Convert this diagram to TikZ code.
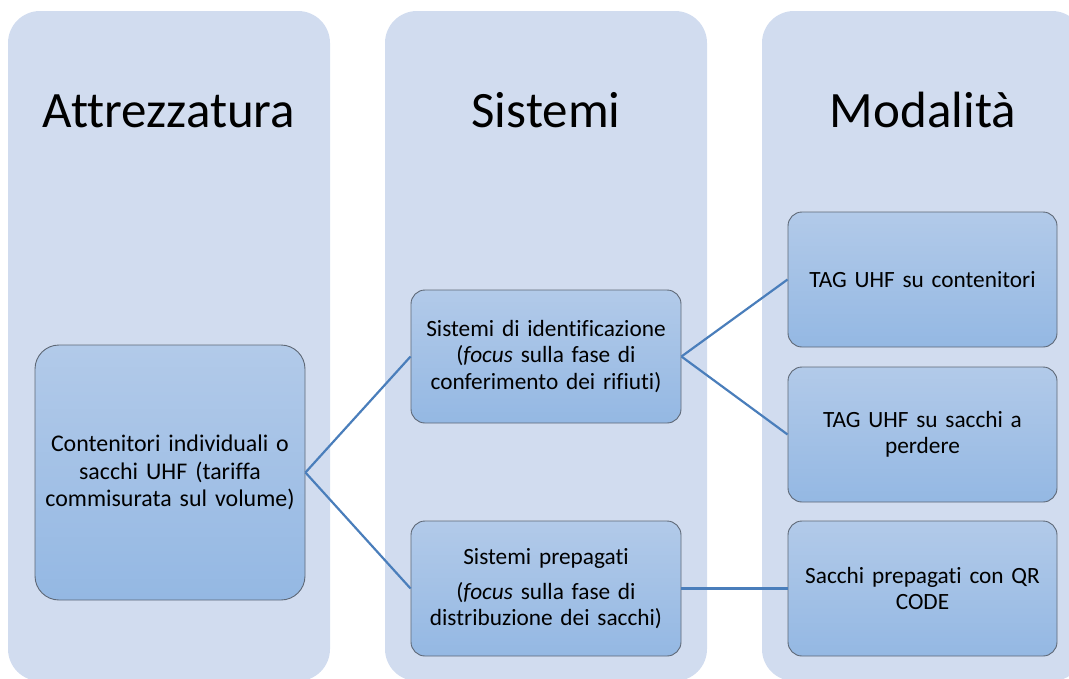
\documentclass[tikz,border=0pt]{standalone}
\usepackage{fontspec}
\setmainfont{Carlito}[Ligatures=NoCommon]
\definecolor{colbg}{RGB}{209,220,239}
\definecolor{boxtop}{RGB}{178,202,233}
\definecolor{boxbot}{RGB}{148,184,227}
\definecolor{boxline}{RGB}{94,104,118}
\definecolor{conn}{RGB}{74,126,187}
\tikzset{
  column/.style={fill=colbg, draw=none, rounded corners=32pt},
  header/.style={font=\fontsize{51}{60}\selectfont, anchor=base, inner sep=0pt},
  item/.style={draw=boxline, line width=0.9pt, top color=boxtop, bottom color=boxbot,
    rectangle, rounded corners=14pt, minimum width=270pt, minimum height=134pt,
    text width=262pt, align=center, inner sep=0pt,
    font=\fontsize{23.3}{26.3}\selectfont},
  bigitem/.style={item, rounded corners=24pt, minimum height=255pt,
    font=\fontsize{23.9}{27.5}\selectfont},
  link/.style={draw=conn, line width=2.2pt}
}
\begin{document}
\begin{tikzpicture}[x=1pt,y=-1pt]
\useasboundingbox (0,0) rectangle (1069,678);
\begin{scope}
\clip (0,0) rectangle (1069,678);
\path[column] (8,11) rectangle (330,681);
\path[column] (385,11) rectangle (707,681);
\path[column] (762,11) rectangle (1084,681);
\end{scope}
\node[header] (h1) at (169,127) {Attrezzatura};
\node[header] (h2) at (546,127) {Sistemi};
\node[header] (h3) at (923,127) {Modalità};

\node[bigitem] (a) at (170,472.5) {Contenitori individuali o\\ sacchi UHF (tariffa\\ commisurata sul volume)};
\node[item, minimum height=133pt] (b) at (546,356.5) {Sistemi di identificazione\\ (\textit{focus} sulla fase di\\ conferimento dei rifiuti)};
\node[item, minimum height=135pt] (c) at (546,588.5) {Sistemi prepagati\\[9pt] (\textit{focus} sulla fase di\\ distribuzione dei sacchi)};
\node[item, minimum width=269pt, minimum height=135pt] (d) at (922.5,279.5) {TAG UHF su contenitori};
\node[item, minimum width=269pt, minimum height=135pt] (e) at (922.5,434.5) {TAG UHF su sacchi a\\ perdere};
\node[item, minimum width=269pt, minimum height=135pt] (f) at (922.5,588.5) {Sacchi prepagati con QR\\ CODE};

\draw[link] (a.east) -- (b.west);
\draw[link] (a.east) -- (c.west);
\draw[link] (b.east) -- (d.west);
\draw[link] (b.east) -- (e.west);
\draw[link] (c.east) -- (f.west);
\end{tikzpicture}
\end{document}
